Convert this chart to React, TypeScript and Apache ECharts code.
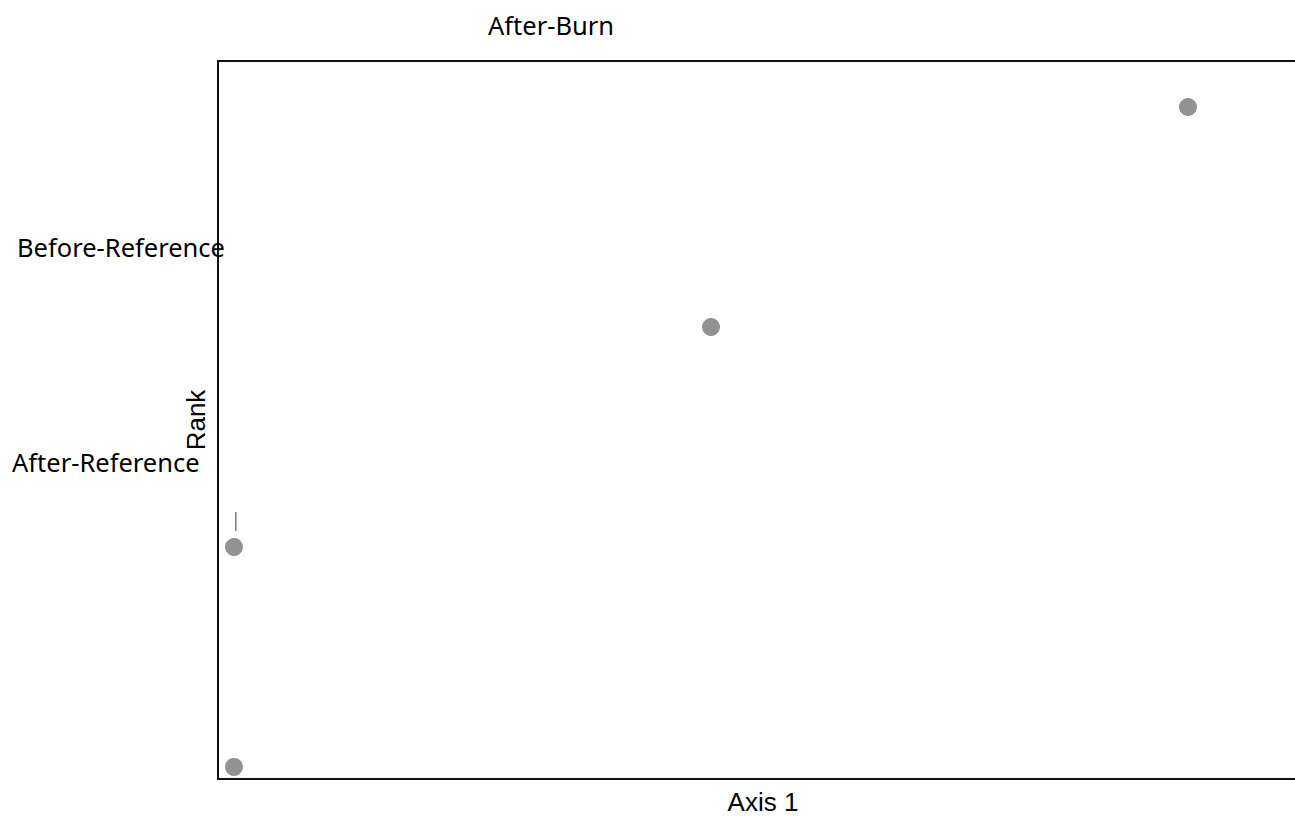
import React, { useEffect, useRef } from "react";
import * as echarts from "echarts";

const axis1Values = [0, 0, 1, 2];
const rankValues = [1, 2, 3, 4];
const markerX = [0.004, 0.004];
const markerY = [2.073, 2.159];
const labelTexts = ["After-Burn", "Before-Reference", "After-Reference"];
const xAxisName = "Axis 1";
const yAxisName = "Rank";

export default function App() {
  const ref = useRef<HTMLDivElement>(null);
  useEffect(() => {
    if (!ref.current) return;
    const chart = echarts.init(ref.current, null, { renderer: "svg" });
    const labelPos = [
      { x: 488, y: 25 },
      { x: 17, y: 247 },
      { x: 12, y: 462 },
    ];
    chart.setOption({
      animation: false,
      grid: {
        left: 218,
        right: -13,
        top: 61,
        bottom: 37,
        show: true,
        borderColor: "#111",
        borderWidth: 2,
        containLabel: false,
        outerBoundsMode: "none",
      },
      xAxis: {
        type: "value",
        min: -0.0335,
        max: 2.2516,
        name: xAxisName,
        nameLocation: "middle",
        nameGap: 23,
        nameTextStyle: {
          fontFamily: "Liberation Sans",
          fontSize: 26,
          lineHeight: 22,
          color: "#000",
          verticalAlign: "middle",
        },
        axisLine: { show: false },
        axisTick: { show: false },
        axisLabel: { show: false },
        splitLine: { show: false },
      },
      yAxis: {
        type: "value",
        min: 0.945,
        max: 4.209,
        name: yAxisName,
        nameLocation: "middle",
        nameGap: 9,
        nameTextStyle: { fontFamily: "Liberation Sans", fontSize: 26, color: "#000", verticalAlign: "bottom" },
        axisLine: { show: false },
        axisTick: { show: false },
        axisLabel: { show: false },
        splitLine: { show: false },
      },
      graphic: labelTexts.map((t, i) => ({
        type: "text",
        x: labelPos[i].x,
        y: labelPos[i].y,
        style: {
          text: t,
          fontFamily: "Noto Sans",
          fontSize: 25.5,
          fill: "#000",
          textVerticalAlign: "middle",
          textAlign: "left",
        },
        z: 100,
      })),
      series: [
        {
          type: "scatter",
          data: axis1Values.map((x, i) => [x, rankValues[i]]),
          symbol: "circle",
          symbolSize: 18,
          itemStyle: { color: "#929292", opacity: 1 },
        },
        {
          type: "line",
          data: markerX.map((x, i) => [x, markerY[i]]),
          symbol: "none",
          lineStyle: { color: "#333", width: 1 },
        },
      ],
    });
    return () => chart.dispose();
  }, []);
  return (
    <div
      ref={ref}
      style={{ position: "absolute", left: 0, top: 0, width: 1295, height: 816 }}
    />
  );
}
